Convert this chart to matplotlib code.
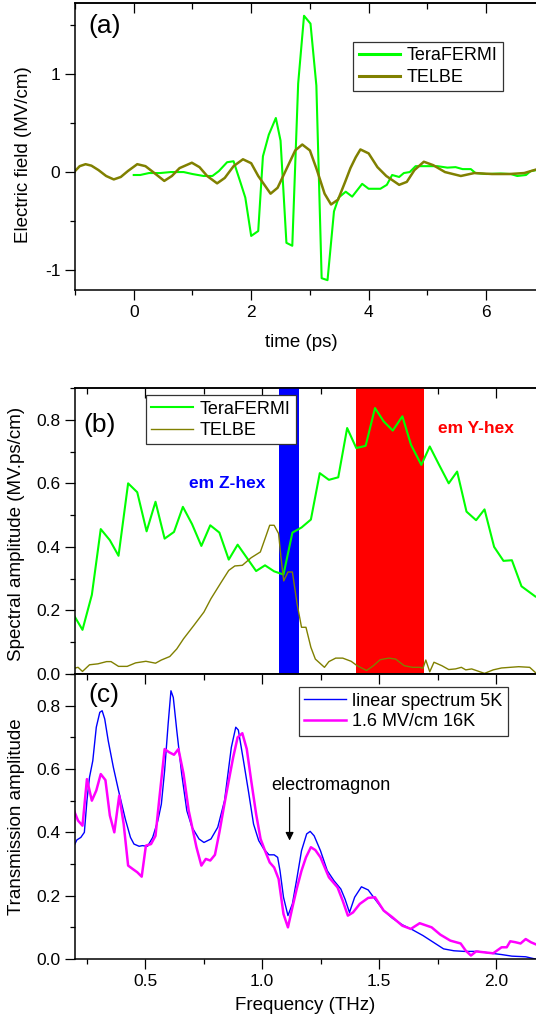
import matplotlib.pyplot as plt
from matplotlib.ticker import MultipleLocator, NullFormatter

# ---- (a) time traces ----
t_fermi = [0, 0.11, 0.26, 0.45, 0.63, 0.85, 1.0, 1.19, 1.34, 1.45,
           1.59, 1.7, 1.82, 1.9, 2.0, 2.12, 2.2, 2.3, 2.42, 2.5,
           2.6, 2.7, 2.8, 2.9, 3.01, 3.11, 3.2, 3.3, 3.41, 3.49,
           3.61, 3.72, 3.89, 4.0, 4.2, 4.31, 4.4, 4.52, 4.6, 4.7,
           4.8, 5.0, 5.17, 5.34, 5.48, 5.6, 5.74, 5.82, 6.0, 6.25,
           6.42, 6.53, 6.68, 6.76, 6.86]
E_fermi = [-0.03, -0.03, -0.01, -0.01, 0.0, 0.0, -0.02, -0.04, -0.04, 0.01,
           0.10, 0.11, -0.11, -0.26, -0.65, -0.60, 0.16, 0.38, 0.55, 0.32,
           -0.72, -0.75, 0.90, 1.59, 1.51, 0.88, -1.08, -1.10, -0.40, -0.26,
           -0.20, -0.25, -0.12, -0.17, -0.17, -0.13, -0.03, -0.05, -0.01, 0.0,
           0.06, 0.06, 0.06, 0.045, 0.05, 0.03, 0.03, -0.01, -0.02, -0.015,
           -0.02, -0.04, -0.03, 0.01, 0.02]

t_telbe = [-1.0, -0.92, -0.82, -0.72, -0.6, -0.47, -0.34, -0.22, -0.1, 0.06,
           0.2, 0.33, 0.52, 0.65, 0.78, 0.99, 1.12, 1.25, 1.42, 1.55,
           1.7, 1.86, 2.0, 2.12, 2.33, 2.45, 2.6, 2.75, 2.87, 3.0,
           3.12, 3.25, 3.36, 3.48, 3.6, 3.69, 3.78, 3.86, 4.0, 4.15,
           4.3, 4.52, 4.65, 4.78, 4.94, 5.1, 5.3, 5.57, 5.8, 6.1,
           6.4, 6.65, 6.86]
E_telbe = [0.01, 0.06, 0.08, 0.065, 0.02, -0.04, -0.075, -0.05, 0.01, 0.08,
           0.06, 0.0, -0.09, -0.04, 0.04, 0.095, 0.05, -0.04, -0.115, -0.06,
           0.06, 0.13, 0.09, -0.04, -0.22, -0.16, 0.03, 0.22, 0.28, 0.22,
           0.02, -0.22, -0.33, -0.28, -0.1, 0.04, 0.15, 0.23, 0.19, 0.05,
           -0.04, -0.13, -0.1, 0.02, 0.105, 0.07, 0.0, -0.04, -0.01, -0.02,
           -0.02, -0.01, 0.027]

# ---- (b) spectra ----
f_fermi = [0.196, 0.232, 0.272, 0.31, 0.349, 0.386, 0.427, 0.466, 0.506, 0.544,
           0.583, 0.623, 0.661, 0.7, 0.74, 0.778, 0.817, 0.857, 0.895, 0.934,
           0.974, 1.012, 1.051, 1.091, 1.129, 1.168, 1.208, 1.246, 1.285, 1.325,
           1.363, 1.402, 1.442, 1.482, 1.519, 1.558, 1.599, 1.636, 1.68, 1.716,
           1.756, 1.797, 1.833, 1.873, 1.914, 1.95, 1.991, 2.031, 2.067, 2.108,
           2.167]
A_fermi = [0.184, 0.139, 0.249, 0.456, 0.421, 0.372, 0.6, 0.572, 0.449, 0.542,
           0.426, 0.447, 0.526, 0.472, 0.403, 0.468, 0.445, 0.36, 0.407, 0.366,
           0.324, 0.342, 0.323, 0.313, 0.445, 0.461, 0.486, 0.632, 0.611, 0.619,
           0.774, 0.711, 0.718, 0.837, 0.795, 0.766, 0.811, 0.721, 0.658, 0.716,
           0.658, 0.6, 0.637, 0.511, 0.484, 0.518, 0.4, 0.356, 0.358, 0.276,
           0.244]

f_telbe = [0.196, 0.213, 0.232, 0.262, 0.298, 0.335, 0.354, 0.386, 0.423, 0.459,
           0.503, 0.544, 0.569, 0.605, 0.635, 0.664, 0.708, 0.751, 0.781, 0.825,
           0.857, 0.883, 0.915, 0.953, 0.992, 1.015, 1.032, 1.051, 1.07, 1.08,
           1.092, 1.11, 1.129, 1.149, 1.168, 1.187, 1.208, 1.227, 1.266, 1.285,
           1.314, 1.344, 1.38, 1.406, 1.446, 1.475, 1.504, 1.541, 1.57, 1.607,
           1.643, 1.675, 1.687, 1.699, 1.716, 1.734, 1.768, 1.797, 1.826, 1.851,
           1.87, 1.895, 1.95, 1.987, 2.023, 2.096, 2.143, 2.167]
A_telbe = [0.018, 0.021, 0.008, 0.029, 0.032, 0.039, 0.039, 0.024, 0.024, 0.035,
           0.04, 0.034, 0.044, 0.055, 0.079, 0.111, 0.153, 0.195, 0.237, 0.289,
           0.326, 0.34, 0.342, 0.366, 0.384, 0.432, 0.468, 0.468, 0.442, 0.368,
           0.293, 0.321, 0.321, 0.221, 0.147, 0.147, 0.084, 0.047, 0.021, 0.039,
           0.05, 0.05, 0.04, 0.026, 0.011, 0.026, 0.045, 0.05, 0.047, 0.026,
           0.021, 0.021, 0.018, 0.044, 0.007, 0.037, 0.026, 0.014, 0.016, 0.021,
           0.013, 0.016, 0.002, 0.013, 0.019, 0.023, 0.021, 0.005]

zhex_band = (1.073, 1.158)
yhex_band = (1.402, 1.69)

# ---- (c) transmission ----
f_lin = [0.196, 0.208, 0.225, 0.24, 0.251, 0.262, 0.276, 0.291, 0.306, 0.316,
         0.327, 0.342, 0.364, 0.386, 0.415, 0.437, 0.452, 0.474, 0.488, 0.51,
         0.532, 0.554, 0.569, 0.583, 0.598, 0.61, 0.62, 0.635, 0.656, 0.678,
         0.7, 0.73, 0.751, 0.781, 0.81, 0.839, 0.868, 0.887, 0.898, 0.92,
         0.942, 0.963, 0.985, 1.007, 1.029, 1.051, 1.066, 1.076, 1.091, 1.11,
         1.129, 1.149, 1.168, 1.19, 1.205, 1.222, 1.249, 1.278, 1.307, 1.336,
         1.354, 1.373, 1.395, 1.424, 1.453, 1.482, 1.519, 1.556, 1.599, 1.643,
         1.687, 1.731, 1.775, 1.819, 1.863, 1.922, 1.98, 2.023, 2.067, 2.126,
         2.167]
T_lin = [0.358, 0.376, 0.384, 0.4, 0.5, 0.574, 0.626, 0.732, 0.779, 0.784,
         0.758, 0.689, 0.605, 0.532, 0.442, 0.384, 0.363, 0.356, 0.358, 0.356,
         0.384, 0.437, 0.489, 0.595, 0.742, 0.847, 0.826, 0.721, 0.584, 0.468,
         0.416, 0.379, 0.368, 0.379, 0.416, 0.5, 0.668, 0.732, 0.723, 0.626,
         0.526, 0.426, 0.374, 0.347, 0.329, 0.329, 0.321, 0.279, 0.195, 0.137,
         0.174, 0.258, 0.342, 0.395, 0.403, 0.389, 0.342, 0.279, 0.247, 0.221,
         0.189, 0.147, 0.195, 0.228, 0.218, 0.189, 0.153, 0.129, 0.108, 0.092,
         0.074, 0.053, 0.032, 0.026, 0.024, 0.024, 0.018, 0.014, 0.009, 0.007,
         0.0]

f_hf = [0.196, 0.213, 0.232, 0.251, 0.272, 0.291, 0.31, 0.33, 0.349, 0.368,
        0.389, 0.408, 0.427, 0.447, 0.466, 0.485, 0.503, 0.525, 0.544, 0.561,
        0.583, 0.602, 0.623, 0.642, 0.664, 0.686, 0.719, 0.74, 0.759, 0.778,
        0.798, 0.817, 0.836, 0.857, 0.876, 0.895, 0.915, 0.934, 0.953, 0.974,
        0.993, 1.012, 1.032, 1.051, 1.07, 1.091, 1.11, 1.129, 1.149, 1.168,
        1.187, 1.208, 1.227, 1.249, 1.285, 1.322, 1.344, 1.366, 1.388, 1.417,
        1.453, 1.482, 1.519, 1.556, 1.599, 1.635, 1.673, 1.724, 1.761, 1.804,
        1.848, 1.87, 1.892, 1.914, 1.95, 1.987, 2.023, 2.045, 2.06, 2.082,
        2.104, 2.126, 2.148, 2.167]
T_hf = [0.468, 0.437, 0.421, 0.568, 0.5, 0.532, 0.584, 0.565, 0.453, 0.4,
        0.516, 0.426, 0.295, 0.284, 0.274, 0.26, 0.358, 0.363, 0.389, 0.511,
        0.663, 0.653, 0.645, 0.663, 0.584, 0.468, 0.353, 0.295, 0.316, 0.311,
        0.329, 0.4, 0.479, 0.563, 0.637, 0.7, 0.713, 0.663, 0.563, 0.458,
        0.379, 0.342, 0.305, 0.289, 0.253, 0.142, 0.1, 0.163, 0.226, 0.279,
        0.321, 0.353, 0.344, 0.321, 0.258, 0.226, 0.184, 0.137, 0.147, 0.174,
        0.193, 0.195, 0.153, 0.132, 0.105, 0.095, 0.113, 0.1, 0.077, 0.058,
        0.049, 0.026, 0.011, 0.024, 0.021, 0.018, 0.037, 0.037, 0.056, 0.053,
        0.049, 0.063, 0.053, 0.047]


#############
##  plot   ##
#############

plt.rcParams['font.family'] = ['Liberation Sans', 'DejaVu Sans']
plt.rcParams['axes.unicode_minus'] = False
plt.rcParams['axes.linewidth'] = 1.1
plt.rcParams['legend.fontsize'] = 13

GREEN = '#00ff00'
OLIVE = '#808000'

W, H = 536.0, 1027.0
def box(l, t, r, b):
    return [l / W, 1 - b / H, (r - l) / W, (b - t) / H]

fig = plt.figure(figsize=(W / 100, H / 100), dpi=100)
ax_a = fig.add_axes(box(75, 3, 536, 290))
ax_b = fig.add_axes(box(75, 388, 536, 674))
ax_c = fig.add_axes(box(75, 674, 536, 959))


def style(ax, xmaj, xmin, ymaj, ymin, bottom=True):
    ax.spines['right'].set_visible(False)
    ax.xaxis.set_major_locator(MultipleLocator(xmaj))
    ax.xaxis.set_minor_locator(MultipleLocator(xmin))
    ax.yaxis.set_major_locator(MultipleLocator(ymaj))
    ax.yaxis.set_minor_locator(MultipleLocator(ymin))
    ax.tick_params(which='both', direction='out', width=0.9, labelsize=12.5,
                   top=False, right=False, bottom=bottom, labelbottom=bottom)
    ax.tick_params(which='major', length=7)
    ax.tick_params(which='minor', length=3.5)
    # inward ticks along the top edge
    sec = ax.secondary_xaxis('top')
    sec.xaxis.set_major_locator(MultipleLocator(xmaj))
    sec.xaxis.set_minor_locator(MultipleLocator(xmin))
    sec.xaxis.set_major_formatter(NullFormatter())
    sec.tick_params(which='both', direction='in', width=0.9)
    sec.tick_params(which='major', length=7)
    sec.tick_params(which='minor', length=4)
    sec.spines['top'].set_linewidth(1.1)


# (a)
ax_a.plot(t_fermi, E_fermi, color=GREEN, lw=1.5, label='TeraFERMI')
ax_a.plot(t_telbe, E_telbe, color=OLIVE, lw=1.8, label='TELBE', solid_joinstyle='round')
ax_a.set_xlim(-1, 6.85)
ax_a.set_ylim(-1.2, 1.72)
style(ax_a, 2, 1, 1, 0.5)
ax_a.set_xlabel('time (ps)', fontsize=13.5)
ax_a.set_ylabel('Electric field (MV/cm)', fontsize=13.5)
ax_a.xaxis.set_label_coords(0.49, -0.155)
ax_a.yaxis.set_label_coords(-0.093, 0.47)
ax_a.text(0.03, 0.92, '(a)', transform=ax_a.transAxes, fontsize=19, va='center')
leg = ax_a.legend(loc='upper right', bbox_to_anchor=(0.928, 0.864), fancybox=False,
                  edgecolor='#333333', framealpha=1, handlelength=2.3,
                  handletextpad=0.35, labelspacing=0.25, borderpad=0.3, borderaxespad=0)
leg.get_frame().set_linewidth(0.9)
for h in leg.get_lines():
    h.set_linewidth(2.2)

# (b)
ax_b.axvspan(*zhex_band, color='#0000ff', lw=0)
ax_b.axvspan(*yhex_band, color='#ff0000', lw=0)
ax_b.plot(f_fermi, A_fermi, color=GREEN, lw=1.5, label='TeraFERMI')
ax_b.plot(f_telbe, A_telbe, color=OLIVE, lw=1.0, label='TELBE')
ax_b.set_xlim(0.2, 2.17)
ax_b.set_ylim(0, 0.9)
style(ax_b, 0.5, 0.25, 0.2, 0.1, bottom=False)
ax_b.set_ylabel('Spectral amplitude (MV.ps/cm)', fontsize=13.5)
ax_b.yaxis.set_label_coords(-0.108, 0.49)
ax_b.text(0.019, 0.87, '(b)', transform=ax_b.transAxes, fontsize=19, va='center')
ax_b.text(0.85, 0.6, 'em Z-hex', color='#0000ff', fontsize=12.5, fontweight='bold',
          ha='center', va='center')
ax_b.text(1.912, 0.774, 'em Y-hex', color='#ff0000', fontsize=12.5, fontweight='bold',
          ha='center', va='center')
leg = ax_b.legend(loc='upper left', bbox_to_anchor=(0.154, 0.975), fancybox=False,
                  edgecolor='#333333', framealpha=1, handlelength=2.3,
                  handletextpad=0.35, labelspacing=0.25, borderpad=0.3, borderaxespad=0)
leg.get_frame().set_linewidth(0.9)

# (c)
ax_c.plot(f_lin, T_lin, color='#0000ff', lw=1.0, label='linear spectrum 5K')
ax_c.plot(f_hf, T_hf, color='#ff00ff', lw=1.8, label='1.6 MV/cm 16K')
ax_c.set_xlim(0.2, 2.17)
ax_c.set_ylim(0, 0.9)
style(ax_c, 0.5, 0.25, 0.2, 0.1)
ax_c.set_xlabel('Frequency (THz)', fontsize=13.5)
ax_c.set_ylabel('Transmission amplitude', fontsize=13.5)
ax_c.xaxis.set_label_coords(0.5, -0.133)
ax_c.yaxis.set_label_coords(-0.108, 0.5)
ax_c.text(0.028, 0.925, '(c)', transform=ax_c.transAxes, fontsize=19, va='center')
ax_c.annotate('', xy=(1.117, 0.374), xytext=(1.117, 0.51),
              arrowprops=dict(arrowstyle='-|>', color='black', lw=0.9,
                              mutation_scale=12, shrinkA=0, shrinkB=0))
ax_c.text(1.294, 0.547, 'electromagnon', fontsize=13, ha='center', va='center')
leg = ax_c.legend(loc='upper right', bbox_to_anchor=(0.939, 0.954), fancybox=False,
                  edgecolor='#333333', framealpha=1, handlelength=2.3,
                  handletextpad=0.35, labelspacing=0.2, borderpad=0.3, borderaxespad=0)
leg.get_frame().set_linewidth(0.9)

plt.savefig('out.png', dpi=100)
